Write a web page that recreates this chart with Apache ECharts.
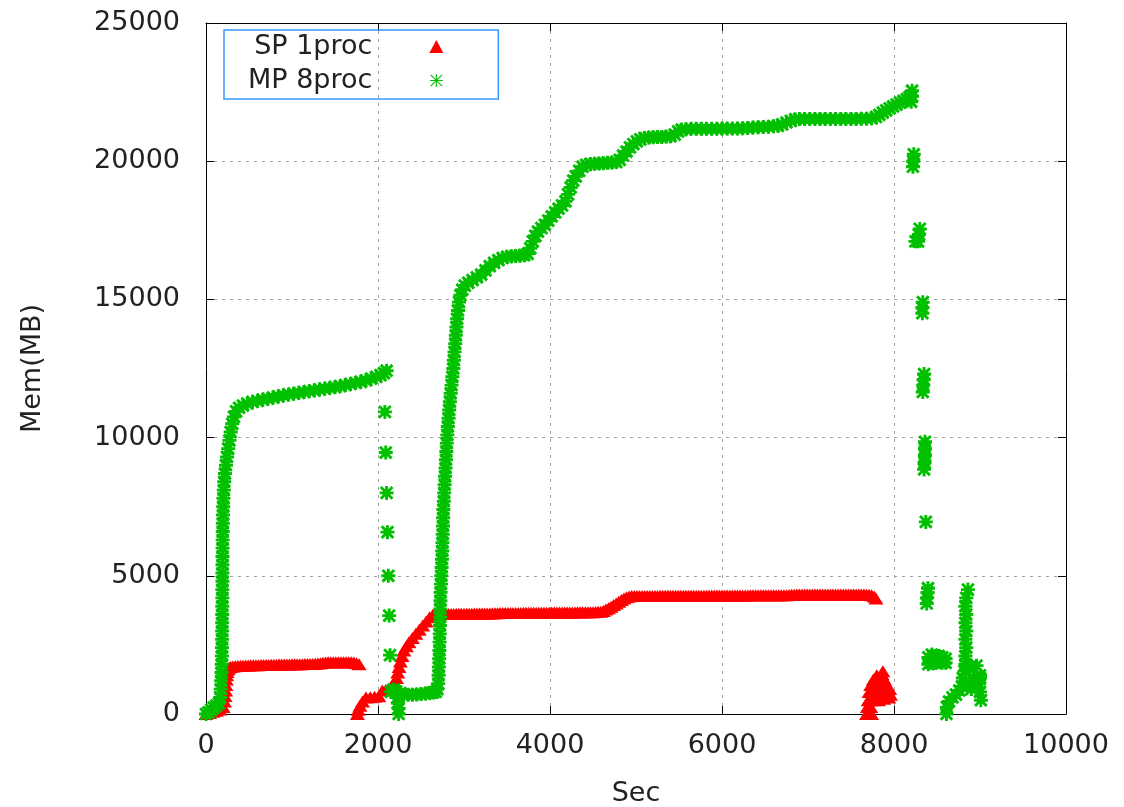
<!DOCTYPE html>
<html><head><meta charset="utf-8">
<script src="https://cdn.jsdelivr.net/npm/echarts@6/dist/echarts.min.js"></script>
<style>html,body{margin:0;padding:0;background:#fff}#c{width:1124px;height:807px}</style>
</head><body><div id="c"></div>
<script>
const seriesNames = ['SP 1proc', 'MP 8proc'];
const xTickValues = [0, 2000, 4000, 6000, 8000, 10000];
const yTickValues = [0, 5000, 10000, 15000, 20000, 25000];

// ---- SP 1proc (red triangles): time (s) / memory (MB), by segment ----
const spSecStart = [0,40,80,120,160,200,215,222,228,232,236,240,246,255,268,285];
const spMemStart = [0,40,80,120,160,250,450,650,850,1050,1250,1400,1520,1610,1670,1700];
const spSecRun1 = [310,340,370,400,430,460,490,520,550,580,610,640,670,700,730,760,790,820,850,880,910,940,970,1000,1030,1060,1090,1120,1150,1180,1210,1240,1270,1300,1330,1360,1390,1420,1450,1480,1510,1540,1570,1600,1630,1660,1690,1720,1750,1780];
const spMemRun1 = [1720,1732,1740,1745,1750,1755,1758,1760,1762,1765,1767,1770,1772,1775,1777,1780,1782,1785,1787,1790,1790,1792,1795,1797,1800,1800,1800,1802,1805,1805,1807,1810,1815,1825,1840,1855,1865,1870,1870,1870,1870,1870,1870,1870,1870,1870,1870,1860,1840,1800];
const spSecRise2 = [1760,1770,1790,1820,1860,1910,1960,2010,2050,2090,2130,2170,2200,2215,2230,2245,2260,2280,2300,2330,2360,2400,2440,2480,2520,2560,2600,2640,2680];
const spMemRise2 = [0,150,300,450,600,610,620,640,850,870,900,950,1100,1300,1500,1700,1900,2100,2300,2450,2600,2750,2900,3050,3200,3350,3500,3600,3640];
const spSecRun2 = [2700,2730,2760,2790,2820,2850,2880,2910,2940,2970,3000,3030,3060,3090,3120,3150,3180,3210,3240,3270,3300,3330,3360,3390,3420,3450,3480,3510,3540,3570,3600,3630,3660,3690,3720,3750,3780,3810,3840,3870,3900,3930,3960,3990,4020,4050,4080,4110,4140,4170,4200,4230,4260,4290,4320,4350,4380,4410,4440,4470,4500,4530,4560,4590,
  4620,4650,4680,4710,4740,4770,4800,4830,4860,4890,4920,4950];
const spMemRun2 = [3620,3615,3615,3615,3620,3620,3620,3625,3625,3625,3630,3630,3630,3630,3635,3635,3635,3640,3640,3640,3640,3645,3645,3645,3650,3650,3650,3650,3650,3655,3655,3655,3655,3660,3660,3660,3660,3660,3660,3660,3665,3665,3665,3665,3670,3670,3670,3670,3670,3670,3675,3675,3675,3675,3680,3680,3680,3680,3680,3685,3685,3690,3695,3700,
  3730,3780,3830,3880,3940,4000,4060,4120,4180,4220,4250,4265];
const spSecRun3 = [4980,5010,5040,5070,5100,5130,5160,5190,5220,5250,5280,5310,5340,5370,5400,5430,5460,5490,5520,5550,5580,5610,5640,5670,5700,5730,5760,5790,5820,5850,5880,5910,5940,5970,6000,6030,6060,6090,6120,6150,6180,6210,6240,6270,6300,6330,6360,6390,6420,6450,6480,6510,6540,6570,6600,6630,6660,6690,6720,6750,6780,
  6810,6840,6870,6900,6930,6960,6990,7020,7050,7080,7110,7140,7170,7200,7230,7260,7290,7320,7350,7380,7410,7440,7470,7500,7530,7560,7590,7620,7650,7680,7710,7740,7770,7790];
const spMemRun3 = [4270,4270,4270,4270,4270,4272,4272,4272,4272,4272,4275,4275,4275,4275,4275,4277,4277,4277,4277,4277,4280,4280,4280,4280,4280,4282,4282,4282,4282,4282,4285,4285,4285,4285,4285,4287,4287,4287,4287,4287,4290,4290,4290,4290,4290,4292,4292,4292,4292,4292,4295,4295,4295,4295,4295,4297,4297,4297,4300,4300,4305,
  4310,4315,4320,4320,4320,4320,4320,4320,4320,4320,4320,4320,4320,4320,4320,4320,4320,4320,4320,4320,4320,4320,4320,4320,4320,4320,4320,4320,4320,4318,4315,4300,4250,4180];
const spSecTail = [7680,7710,7740,7690,7730,7700,7760,7820,7880,7940,7960,7710,7770,7830,7890,7950,7730,7790,7850,7920,7760,7820,7890,7800,7860,7870];
const spMemTail = [0,0,0,250,250,500,500,500,550,600,700,800,800,800,850,900,1050,1050,1050,1050,1250,1250,1250,1400,1450,1550];

// ---- MP 8proc (green asterisks): time (s) / memory (MB), by segment ----
const mpSecRun1 = [0,30,60,90,120,150,
  165,172,176,180,183,185,186,187,188,188,189,189,190,190,191,191,192,192,193,194,195,196,198,200,203,207,212,220,232,245,258,272,287,305,325,350,385,430,480,540,600,
  660,720,780,840,900,960,1020,1080,1140,1200,1260,1320,1380,1440,1500,1560,1620,1680,1740,1800,1860,1920,1980,2030,2070,2100];
const mpMemRun1 = [0,60,150,230,300,380,
  600,900,1200,1500,1800,2100,2400,2700,3000,3300,3600,3900,4200,4500,4800,5100,5400,5700,6000,6300,6600,6900,7200,7500,7800,8100,8400,8700,9000,9300,9600,9900,10200,10500,10750,10950,11080,11160,11230,11290,11330,
  11370,11410,11450,11490,11530,11560,11590,11620,11650,11680,11710,11740,11770,11800,11830,11860,11900,11940,11980,12020,12070,12130,12200,12260,12330,12420];
const mpSecDrop1 = [2080,2090,2100,2110,2120,2130,2140];
const mpMemDrop1 = [10930,9460,8000,6580,5000,3560,2130];
const mpSecRun2 = [2150,2180,2210,2230,2230,2240,2240,2260,2300,2350,2400,2450,2500,2550,2600,2640,2670,2690,
  2700,2705,2708,2711,2714,2716,2718,2720,2722,2724,2726,2728,2732,2736,2740,2744,2747,2750,2753,2756,2758,2760,2765,2770,2775,2780,2785,2790,2795,2800,2806,2812,2820,2828,2836,2845,2855,2865,2875,2882,2890,2898,2905,2912,2920,2930,2942,2958,2980,3010,3050,3100,3150,3200,3250,3300,3350,3400,3450,3500,3550,3600,3650,3700,3740,3770,3800,3830,3860,3900,3940,3980,4020,4060,4100,4140,4180,4210,4240,4270,4300,4340,4380,4420,4470,4520,4570,4620,4670,4720,4770,4810,4850,4890,4930,4970,5010,5050,5100,5150,5200,5250,5300,5350,5400,5450,5490,5530,5580,5640,5700,5760,5820,5880,5940,6000,6060,6120,6180,6240,6300,6360,6420,6480,6540,6600,6650,6700,6750,6800,6850,6900,6960,7020,7080,7140,7200,7260,7320,7380,7440,7500,7560,7620,7680,7740,7790,7830,7870,7910,7950,7990,8030,8070,8110,8150,8180];
const mpMemRun2 = [800,880,820,600,400,200,0,760,700,700,700,710,720,740,760,780,800,900,
  1100,1400,1700,2000,2300,2600,2900,3200,3500,3800,4100,4400,4700,5000,5300,5600,5900,6200,6500,6800,7100,7400,7700,8000,8300,8600,8900,9200,9500,9800,10100,10400,10700,11000,11300,11600,11900,12200,12500,12800,13100,13400,13700,14000,14300,14600,14900,15150,15350,15500,15600,15700,15800,15900,16050,16200,16320,16420,16500,16540,16560,16570,16580,16600,16650,16850,17100,17300,17450,17580,17700,17850,18000,18150,18280,18400,18550,18800,19050,19300,19450,19650,19800,19870,19900,19910,19920,19930,19940,19950,19970,20050,20200,20350,20500,20620,20720,20790,20840,20860,20870,20880,20880,20890,20900,20960,21080,21140,21160,21170,21170,21170,21170,21170,21170,21180,21180,21180,21180,21190,21200,21220,21230,21240,21250,21260,21280,21330,21400,21460,21510,21530,21530,21530,21530,21530,21530,21530,21530,21530,21530,21530,21530,21540,21540,21550,21600,21680,21760,21840,21910,21980,22050,22120,22180,22250,22320];
const mpSecDrop2 = [8200,8210,8210,8220,8225,8230,8250,8280,8290,8300,8330,8330,8335,8335,8340,8345,8350,8350,8355,8360,8360,8360,8370,8380,8385,8390,8395];
const mpMemDrop2 = [22150,22350,22550,19800,20000,20250,17100,17100,17350,17550,14500,14700,14900,11650,11900,12100,12300,8850,9100,9350,9600,9850,6950,4000,4200,4400,4550];
const mpSecTail = [8400,8400,8440,8440,8480,8480,8520,8520,8560,8560,8600,8600,
  8610,8615,8640,8680,8720,8760,8790,8800,8820,8830,8830,8840,8830,8840,8830,8840,8830,8840,8860,8900,8960,8880,8920,8960,9000,9010,9000,8990,9000,8900,8860];
const mpMemTail = [1800,2050,1850,2150,1850,2100,1900,2100,1850,2050,1850,2000,
  0,250,450,600,700,850,1000,1300,1550,1800,2100,2400,2700,3000,3300,3600,3900,4200,4500,1750,1750,1650,1300,1200,1300,500,800,1100,1400,900,1000];

const spSec = [].concat(spSecStart, spSecRun1, spSecRise2, spSecRun2, spSecRun3, spSecTail);
const spMem = [].concat(spMemStart, spMemRun1, spMemRise2, spMemRun2, spMemRun3, spMemTail);
const mpSec = [].concat(mpSecRun1, mpSecDrop1, mpSecRun2, mpSecDrop2, mpSecTail);
const mpMem = [].concat(mpMemRun1, mpMemDrop1, mpMemRun2, mpMemDrop2, mpMemTail);

const toPairs = (xs, ys) => xs.map((x, i) => [x, ys[i]]);
const starThin = 'path://M11 0h2v24h-2z M0 11h24v2h-24z M2.1 0.7L23.3 21.9L21.9 23.3L0.7 2.1Z M21.9 0.7L23.3 2.1L2.1 23.3L0.7 21.9Z';
const starBold = 'path://M9.5 0h5v24h-5z M0 9.5h24v5h-24z M3.77 0.23L23.77 20.23L20.23 23.77L0.23 3.77Z M20.23 0.23L23.77 3.77L3.77 23.77L0.23 20.23Z';
const FONT = 'DejaVu Sans';
const TXT = '#222';
const plain = v => String(v);

const chart = echarts.init(document.getElementById('c'), null, {renderer: 'canvas'});
const gridLine = {show: true, lineStyle: {color: '#a0a0a0', width: 1, type: [3, 5]}};
const border = {show: true, onZero: false, lineStyle: {color: '#000', width: 1}};
const ticks = {show: true, inside: true, length: 8, lineStyle: {color: '#000'}};
chart.setOption({
  animation: false,
  backgroundColor: '#ffffff',
  grid: {left: 206, right: 58, top: 23, bottom: 93, outerBoundsMode: 'none', containLabel: false},
  legend: {
    orient: 'vertical', left: 224, top: 30, align: 'right',
    padding: [3, 55, 5, 24],
    borderColor: '#3399ff', borderWidth: 1.5, borderRadius: 0,
    itemWidth: 14, itemHeight: 13, itemGap: 7,
    data: [{name: seriesNames[0], icon: 'triangle'}, {name: seriesNames[1], icon: starThin}],
    textStyle: {fontFamily: FONT, fontSize: 27, color: TXT, lineHeight: 26, padding: [0, 52, 0, 0]}
  },
  xAxis: [{
    type: 'value', min: xTickValues[0], max: xTickValues[xTickValues.length - 1], interval: 2000,
    name: 'Sec', nameLocation: 'middle', nameGap: 66,
    nameTextStyle: {fontFamily: FONT, fontSize: 27, color: TXT, lineHeight: 27},
    axisLine: border, axisTick: ticks,
    axisLabel: {fontFamily: FONT, fontSize: 27, color: TXT, margin: 18, lineHeight: 27, formatter: plain},
    splitLine: gridLine
  }, {
    type: 'value', position: 'top', min: xTickValues[0], max: xTickValues[xTickValues.length - 1], interval: 2000,
    axisLine: border, axisTick: ticks, axisLabel: {show: false}, splitLine: {show: false}
  }],
  yAxis: [{
    type: 'value', min: yTickValues[0], max: yTickValues[yTickValues.length - 1], interval: 5000,
    name: 'Mem(MB)', nameLocation: 'middle', nameGap: 160,
    nameTextStyle: {fontFamily: FONT, fontSize: 27, color: TXT, lineHeight: 27},
    axisLine: border, axisTick: ticks,
    axisLabel: {fontFamily: FONT, fontSize: 27, color: TXT, margin: 26, formatter: plain},
    splitLine: gridLine
  }, {
    type: 'value', position: 'right', min: yTickValues[0], max: yTickValues[yTickValues.length - 1], interval: 5000,
    axisLine: border, axisTick: ticks, axisLabel: {show: false}, splitLine: {show: false}
  }],
  series: [{
    name: seriesNames[0], type: 'scatter', xAxisIndex: 0, yAxisIndex: 0,
    symbol: 'triangle', symbolSize: [15, 12],
    itemStyle: {color: '#ff0000', opacity: 1},
    data: toPairs(spSec, spMem)
  }, {
    name: seriesNames[1], type: 'scatter', xAxisIndex: 0, yAxisIndex: 0,
    symbol: starBold, symbolSize: 14,
    itemStyle: {color: '#00c000', opacity: 1},
    data: toPairs(mpSec, mpMem)
  }]
});
</script></body></html>
